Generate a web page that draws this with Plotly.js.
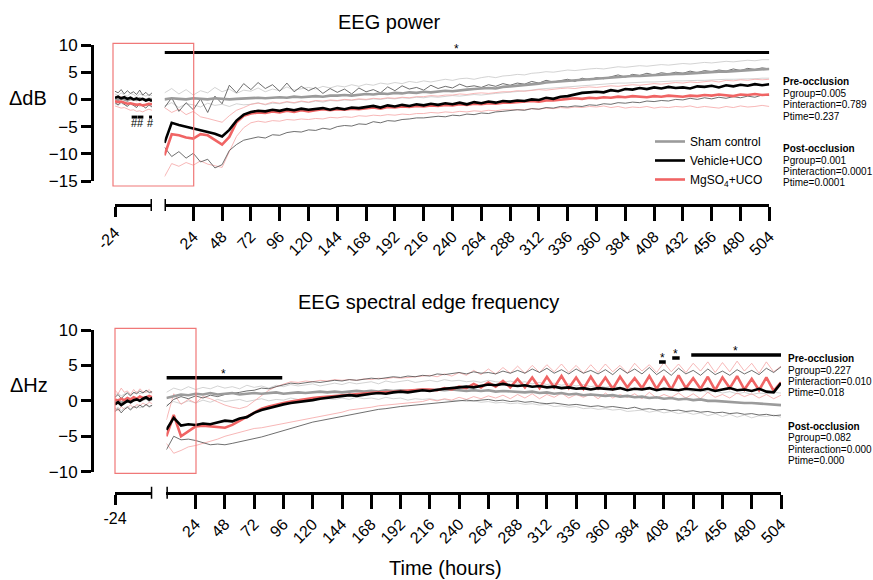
<!DOCTYPE html>
<html>
<head>
<meta charset="utf-8">
<script src="https://cdn.plot.ly/plotly-3.0.1.min.js"></script>
<style>html,body{margin:0;padding:0;background:#fff;}#chart{width:873px;height:580px;}</style>
</head>
<body>
<div id="chart"></div>
<script>
// ---------------- DATA ----------------
const hoursPre = [-24,-22,-20,-18,-16,-14,-12,-10,-8,-6,-4,-2,0];
const hoursPost = [0,6,12,18,24,30,36,42,48,54,60,66,72,78,84,90,96,102,108,114,120,126,132,138,144,150,156,162,168,174,180,186,192,198,204,210,216,222,228,234,240,246,252,258,264,270,276,282,288,294,300,306,312,318,324,330,336,342,348,354,360,366,372,378,384,390,396,402,408,414,420,426,432,438,444,450,456,462,468,474,480,486,492,498,504];
const tickHoursPost = [24,48,72,96,120,144,168,192,216,240,264,288,312,336,360,384,408,432,456,480,504];
const tickHoursPre = [-24];
const groupNames = ["Sham control","Vehicle+UCO","MgSO<sub>4</sub>+UCO"];

// EEG power (ΔdB) – pre-occlusion
const powPreSham   = [0.1,-0.1,0.2,0.0,-0.2,0.1,0.0,-0.1,0.2,0.0,-0.1,0.1,0.0];
const powPreShamHi = [1.0,0.7,1.2,0.8,0.6,1.1,0.9,0.5,1.0,0.8,0.6,0.9,0.7];
const powPreShamLo = [-0.8,-1.1,-0.7,-1.0,-1.2,-0.9,-1.1,-0.8,-1.3,-1.0,-0.9,-1.2,-1.0];
const powPreVeh    = [0.3,0.5,0.2,0.4,0.1,0.3,0.0,0.2,-0.1,0.1,-0.2,0.0,-0.3];
const powPreVehHi  = [1.5,1.2,1.8,1.0,1.6,1.1,1.4,0.9,1.7,0.8,1.3,0.7,1.2];
const powPreVehLo  = [-0.6,-1.0,-0.5,-0.9,-1.3,-0.7,-1.1,-1.5,-0.8,-1.2,-1.6,-1.0,-1.4];
const powPreMg     = [-0.3,-0.5,-0.4,-0.6,-0.8,-0.7,-0.9,-1.0,-0.9,-1.1,-1.0,-0.8,-0.9];
const powPreMgHi   = [0.6,0.3,0.5,0.2,0.0,0.3,-0.1,0.1,-0.2,0.0,-0.3,-0.1,0.1];
const powPreMgLo   = [-1.2,-1.4,-1.6,-1.5,-1.8,-2.0,-1.9,-2.2,-2.1,-2.3,-2.0,-1.8,-2.0];

// EEG power (ΔdB) – post-occlusion
const powSham = [0.0,0.2,0.1,0.0,0.2,0.1,0.0,0.2,0.1,0.0,0.1,0.2,
 0.2,0.3,0.2,0.3,0.4,0.3,0.5,0.4,0.5,0.6,0.5,0.7,
 0.7,0.8,0.7,0.9,1.0,0.9,1.1,1.0,1.2,1.1,1.3,1.2,
 1.4,1.3,1.5,1.6,1.5,1.7,1.8,1.9,2.0,2.1,2.0,2.3,
 2.4,2.5,2.6,2.8,2.9,3.1,3.2,3.3,3.5,3.6,3.7,3.8,
 3.9,4.0,4.0,4.1,4.2,4.3,4.3,4.4,4.5,4.5,4.6,4.7,
 4.7,4.8,4.9,4.9,5.0,5.1,5.1,5.2,5.3,5.3,5.4,5.5,5.6];
const powShamHi = [1.2,2.0,1.0,1.8,0.8,1.6,1.2,2.2,1.4,1.9,1.1,1.7,
 1.5,2.1,1.4,1.9,1.6,2.3,1.7,2.0,2.2,1.9,2.4,2.1,
 2.5,2.3,2.7,2.4,2.8,2.6,3.0,2.8,3.1,2.9,3.3,3.1,
 3.4,3.2,3.5,3.7,3.5,3.8,3.9,3.7,4.0,4.2,4.0,4.3,
 4.4,4.6,4.5,4.8,4.9,5.1,5.0,5.2,5.4,5.3,5.5,5.6,
 5.7,5.6,5.8,6.0,5.9,6.1,6.2,6.1,6.3,6.4,6.3,6.5,
 6.6,6.5,6.7,6.8,6.7,6.9,7.0,6.9,7.1,7.2,7.1,7.3,7.3];
const powShamLo = [-1.2,-0.6,-1.5,-0.8,-1.0,-1.4,-0.7,-1.1,-0.9,-1.3,-0.8,-1.0,
 -0.9,-0.6,-1.0,-0.7,-0.8,-0.5,-0.7,-0.4,-0.6,-0.3,-0.5,-0.2,
 -0.3,-0.1,-0.2,0.0,-0.1,0.1,0.0,0.2,0.1,0.3,0.2,0.4,
 0.3,0.5,0.4,0.6,0.7,0.6,0.8,0.9,0.8,1.0,1.1,1.2,
 1.3,1.4,1.6,1.7,1.9,2.0,2.1,2.3,2.4,2.5,2.6,2.7,
 2.8,2.8,2.9,3.0,3.0,3.1,3.1,3.2,3.2,3.3,3.3,3.4,
 3.4,3.5,3.5,3.5,3.6,3.6,3.7,3.7,3.7,3.8,3.8,3.9,3.9];
const powVeh = [-8.0,-4.3,-4.7,-5.0,-5.4,-5.6,-5.9,-6.3,-6.8,-5.6,-3.9,-2.8,
 -2.3,-2.1,-2.2,-1.9,-2.1,-1.8,-2.0,-1.7,-1.9,-1.8,-1.6,-1.9,
 -1.6,-1.8,-1.5,-1.6,-1.4,-1.2,-1.5,-1.1,-1.3,-1.0,-1.2,-0.9,
 -1.1,-0.8,-1.0,-0.7,-0.9,-0.6,-0.9,-0.5,-0.7,-0.4,-0.6,-0.3,
 -0.4,-0.2,-0.3,0.0,-0.1,0.3,0.1,0.5,0.6,0.9,1.2,1.3,
 1.4,1.3,1.7,1.5,1.9,1.8,2.1,1.9,2.2,2.0,2.3,2.1,
 2.2,2.0,2.4,2.3,2.5,2.2,2.6,2.4,2.7,2.5,2.8,2.6,2.8];
const powVehHi = [-1.5,0.3,-2.2,-0.6,-1.9,0.1,-2.4,0.6,-0.8,2.6,1.2,2.9,
 1.8,3.1,2.0,2.7,1.5,3.0,1.4,2.4,1.6,2.2,1.1,2.0,
 1.3,1.9,1.0,2.1,1.4,1.8,1.2,2.3,1.6,2.5,1.9,2.2,
 1.7,2.6,2.0,2.4,2.1,2.8,2.3,2.5,2.2,2.7,2.4,2.9,
 2.6,3.0,2.8,3.3,3.0,3.5,3.2,3.4,3.7,3.3,3.9,3.6,
 4.0,3.8,4.2,4.5,4.1,4.6,4.4,4.8,4.5,4.9,4.7,5.0,
 4.8,5.2,4.9,5.3,5.1,5.4,5.2,5.6,5.3,5.7,5.5,5.8,5.6];
const powVehLo = [-8.8,-10.5,-9.6,-10.8,-9.9,-11.5,-11.0,-12.6,-12.0,-9.4,-8.3,-7.5,
 -7.2,-6.9,-7.1,-6.5,-6.6,-6.1,-5.9,-6.0,-5.6,-5.7,-5.3,-5.5,
 -5.0,-4.8,-4.9,-4.5,-4.6,-4.1,-4.3,-3.9,-4.0,-3.7,-3.6,-3.4,
 -3.4,-3.3,-3.1,-3.2,-2.9,-3.0,-2.7,-2.8,-2.5,-2.6,-2.3,-2.2,
 -2.1,-1.9,-2.0,-1.7,-1.8,-1.5,-1.6,-1.3,-1.4,-1.2,-1.3,-1.0,
 -1.1,-0.8,-0.9,-0.6,-0.7,-0.5,-0.6,-0.3,-0.4,-0.2,-0.3,0.0,
 -0.1,0.2,0.0,0.3,0.1,0.4,0.2,0.5,0.3,0.6,0.4,0.8,0.7];
const powMg = [-10.3,-6.4,-6.6,-7.0,-7.2,-6.4,-6.6,-7.4,-8.3,-6.9,-4.2,-3.0,
 -2.6,-2.4,-2.5,-2.2,-2.4,-2.1,-2.3,-2.0,-2.2,-2.0,-1.8,-2.0,
 -1.8,-1.9,-1.7,-1.8,-1.6,-1.5,-1.7,-1.4,-1.5,-1.3,-1.4,-1.2,
 -1.3,-1.1,-1.2,-1.0,-1.1,-0.9,-1.0,-0.8,-0.9,-0.7,-0.8,-0.6,
 -0.6,-0.5,-0.5,-0.3,-0.4,-0.2,-0.2,0.0,0.1,0.2,0.1,0.3,
 0.2,0.4,0.3,0.5,0.4,0.6,0.5,0.4,0.6,0.5,0.7,0.6,
 0.5,0.7,0.6,0.8,0.7,0.9,0.8,0.6,0.9,0.8,1.0,0.8,0.9];
const powMgHi = [-1.5,-2.4,-1.8,-2.8,-2.2,-3.2,-3.5,-3.9,-4.2,-3.0,-2.0,-1.5,
 -0.9,-0.7,-0.9,-0.5,-0.7,-0.4,-0.6,-0.3,-0.5,-0.2,-0.3,-0.1,
 -0.2,0.0,-0.1,0.1,0.0,0.2,0.1,0.3,0.2,0.4,0.3,0.5,
 0.5,0.7,0.6,0.8,0.8,1.0,0.9,1.1,1.2,1.1,1.3,1.4,
 1.4,1.6,1.5,1.7,1.8,1.7,1.9,2.0,2.1,2.0,2.2,2.3,
 2.2,2.4,2.5,2.4,2.6,2.7,2.6,2.8,2.9,2.8,3.0,3.1,
 3.0,3.2,3.1,3.3,3.4,3.2,3.5,3.4,3.6,3.5,3.7,3.6,3.7];
const powMgLo = [-14.2,-11.8,-12.3,-11.6,-12.1,-11.3,-11.9,-12.2,-12.5,-9.6,-6.8,-5.2,
 -4.3,-4.0,-4.2,-3.9,-4.0,-3.7,-3.8,-3.6,-3.7,-3.5,-3.6,-3.3,
 -3.4,-3.2,-3.3,-3.0,-3.1,-2.9,-3.0,-2.8,-2.9,-2.7,-2.8,-2.6,
 -2.6,-2.4,-2.5,-2.3,-2.4,-2.2,-2.3,-2.1,-2.2,-2.0,-2.1,-1.9,
 -1.9,-1.8,-1.9,-1.7,-1.8,-1.6,-1.7,-1.5,-1.6,-1.4,-1.5,-1.3,
 -1.4,-1.2,-1.5,-1.3,-1.6,-1.4,-1.5,-1.3,-1.6,-1.4,-1.5,-1.3,
 -1.4,-1.2,-1.5,-1.3,-1.4,-1.6,-1.3,-1.5,-1.2,-1.4,-1.3,-1.1,-1.3];

// Spectral edge frequency (ΔHz) – pre-occlusion
const sefPreSham   = [-0.2,0.1,-0.3,0.0,0.2,-0.1,0.1,0.3,0.0,0.2,0.4,0.1,0.3];
const sefPreShamHi = [0.8,1.1,0.7,1.0,1.2,0.9,1.1,1.3,1.0,1.2,1.4,1.1,1.2];
const sefPreShamLo = [-1.2,-0.9,-1.4,-1.0,-0.8,-1.1,-0.9,-0.7,-1.0,-0.8,-0.6,-0.9,-0.7];
const sefPreVeh    = [-0.5,-0.2,-0.6,-0.3,0.0,-0.2,0.1,0.2,0.0,0.3,0.5,0.2,0.4];
const sefPreVehHi  = [0.5,0.9,0.3,0.8,1.1,0.7,1.2,1.0,1.4,1.1,1.5,1.2,1.3];
const sefPreVehLo  = [-1.5,-1.1,-1.7,-1.2,-0.9,-1.3,-0.8,-1.0,-0.6,-0.9,-0.5,-0.8,-0.6];
const sefPreMg     = [0.2,0.0,0.3,0.1,0.4,0.2,0.5,0.3,0.6,0.4,0.5,0.7,0.5];
const sefPreMgHi   = [1.5,1.0,1.8,1.2,1.4,0.9,1.6,1.1,1.7,1.3,1.2,1.6,1.0];
const sefPreMgLo   = [-1.0,-1.4,-0.8,-1.2,-0.9,-0.6,-1.0,-0.5,-0.7,-0.3,-0.6,-0.2,-0.4];

// Spectral edge frequency (ΔHz) – post-occlusion
const sefSham = [0.4,0.7,0.9,0.8,1.0,0.9,1.1,0.9,1.0,1.1,0.9,1.0,
 1.1,1.0,1.1,1.2,1.0,1.1,1.2,1.1,1.2,1.3,1.2,1.3,
 1.2,1.3,1.4,1.3,1.4,1.3,1.5,1.4,1.5,1.4,1.5,1.6,
 1.5,1.6,1.5,1.6,1.5,1.4,1.5,1.4,1.5,1.3,1.4,1.3,
 1.3,1.2,1.3,1.1,1.2,1.0,1.1,0.9,1.0,0.8,0.9,0.8,
 0.7,0.8,0.6,0.7,0.5,0.6,0.4,0.5,0.3,0.4,0.2,0.3,
 0.1,0.2,0.0,0.0,-0.1,-0.2,-0.2,-0.3,-0.3,-0.4,-0.5,-0.5,-0.6];
const sefShamHi = [1.2,1.8,1.5,2.0,1.6,1.9,1.7,2.1,1.8,2.0,1.7,2.2,
 1.9,2.1,1.8,2.2,2.0,2.3,2.1,2.2,2.4,2.1,2.3,2.5,
 2.3,2.6,2.4,2.5,2.7,2.4,2.8,2.6,2.7,2.9,2.6,2.8,
 2.9,2.7,3.0,2.8,2.9,2.7,2.8,2.6,2.9,2.7,2.6,2.8,
 2.5,2.7,2.4,2.6,2.3,2.5,2.2,2.4,2.1,2.3,2.0,2.2,
 1.9,2.1,1.8,2.0,1.7,1.9,1.6,1.8,1.5,1.7,1.4,1.6,
 1.3,1.5,1.2,1.4,1.1,1.3,1.0,1.2,0.9,1.1,1.0,1.2,1.1];
const sefShamLo = [-0.6,-0.1,-0.4,0.0,-0.3,0.1,-0.2,0.2,-0.1,0.0,0.2,-0.1,
 0.1,0.3,0.0,0.2,0.1,0.4,0.2,0.3,0.1,0.4,0.3,0.2,
 0.4,0.2,0.5,0.3,0.4,0.2,0.5,0.3,0.4,0.1,0.3,0.2,
 0.3,0.1,0.2,0.0,0.1,-0.1,0.0,-0.2,-0.1,-0.3,-0.2,-0.4,
 -0.3,-0.5,-0.4,-0.6,-0.5,-0.8,-0.7,-0.9,-0.8,-1.1,-1.0,-1.2,
 -1.1,-1.3,-1.2,-1.5,-1.4,-1.3,-1.6,-1.4,-1.7,-1.5,-1.8,-1.6,
 -1.9,-1.7,-2.1,-1.8,-2.2,-1.9,-2.3,-2.0,-2.4,-2.1,-2.2,-2.0,-2.3];
const sefVeh = [-4.1,-2.4,-3.5,-3.3,-3.4,-3.2,-3.3,-3.1,-2.8,-2.9,-2.5,-2.3,
 -1.7,-1.3,-1.0,-0.7,-0.5,-0.3,-0.2,0.0,0.1,0.3,0.4,0.5,
 0.6,0.8,0.7,0.9,1.0,1.1,1.0,1.2,1.3,1.2,1.4,1.5,
 1.4,1.6,1.7,1.8,1.9,2.0,1.9,2.1,2.3,2.2,2.4,2.2,
 2.1,2.2,2.0,2.1,1.9,2.0,1.8,1.9,1.7,1.8,1.6,1.8,
 1.7,1.6,1.8,1.5,1.7,1.6,1.8,1.5,1.7,1.6,1.5,1.7,
 1.6,1.5,1.7,1.4,1.6,1.8,1.5,1.6,1.4,1.7,1.3,1.2,2.5];
const sefVehHi = [-0.8,0.2,0.6,0.3,0.7,0.4,0.8,0.6,0.9,1.0,1.2,1.4,
 1.5,1.8,1.7,2.0,2.3,2.5,2.4,2.6,2.7,2.6,2.8,2.9,
 2.8,3.0,2.9,3.1,3.2,3.1,3.3,3.4,3.3,3.5,3.4,3.6,
 3.5,3.8,3.7,3.9,4.0,3.8,4.1,3.9,4.0,3.8,4.2,3.9,
 4.3,3.9,4.5,4.0,4.6,3.9,4.4,3.8,4.5,3.9,4.3,3.8,
 4.4,3.7,4.6,3.9,4.5,3.8,4.7,3.7,4.4,3.6,4.6,3.8,
 4.3,3.6,4.5,3.7,4.2,3.6,4.4,3.8,4.3,3.7,4.6,4.0,4.8];
const sefVehLo = [-6.9,-5.0,-5.5,-5.4,-5.6,-5.9,-6.2,-6.1,-6.2,-6.0,-5.8,-5.5,
 -5.3,-5.1,-4.8,-4.5,-4.1,-3.8,-3.6,-3.3,-3.0,-2.8,-2.6,-2.4,
 -2.2,-1.9,-1.7,-1.5,-1.4,-1.2,-1.1,-0.9,-0.8,-0.7,-0.6,-0.5,
 -0.4,-0.3,-0.2,-0.1,0.0,0.1,0.0,0.1,0.2,0.0,0.1,-0.1,
 0.0,-0.2,-0.1,-0.3,-0.4,-0.3,-0.5,-0.6,-0.5,-0.7,-0.8,-0.7,
 -0.9,-0.8,-1.0,-1.1,-0.9,-1.2,-1.1,-1.3,-1.2,-1.4,-1.3,-1.5,
 -1.4,-1.6,-1.5,-1.7,-1.6,-1.8,-1.7,-1.9,-1.8,-2.0,-1.9,-2.1,-2.0];
const sefMg = [-5.0,-2.0,-5.0,-4.3,-3.6,-3.5,-3.6,-3.7,-3.8,-3.4,-2.8,-2.2,
 -1.6,-1.1,-0.8,-0.5,-0.3,-0.1,0.1,0.3,0.4,0.5,0.6,0.7,
 0.8,0.9,1.0,1.0,1.1,1.2,1.2,1.3,1.4,1.4,1.5,1.6,
 1.6,1.5,1.8,1.6,2.0,1.8,2.4,1.9,2.6,2.0,2.8,1.9,
 3.1,1.9,3.3,1.8,3.4,1.9,3.5,1.8,3.3,1.7,3.4,1.8,
 3.3,1.7,3.4,1.9,3.2,1.8,3.5,1.7,3.3,1.6,3.6,1.8,
 3.2,1.7,3.4,1.5,3.3,1.8,3.5,1.6,3.1,1.5,3.3,1.4,2.6];
const sefMgHi = [-2.7,1.0,-0.5,0.2,-0.3,0.6,0.3,-0.2,-0.6,-0.9,-1.1,-0.8,
 0.0,0.7,1.5,2.0,2.4,2.7,2.6,2.8,2.7,2.9,2.8,3.0,
 2.9,3.0,2.9,3.1,3.0,3.2,3.1,3.3,3.2,3.3,3.4,3.5,
 3.6,3.4,3.8,3.5,4.0,3.6,4.3,3.7,4.5,3.8,4.7,3.9,
 4.9,3.9,5.0,4.0,5.1,4.1,5.2,4.0,5.0,3.9,5.1,4.0,
 5.2,4.1,5.0,3.9,5.3,4.2,5.1,4.0,5.4,4.1,5.2,4.0,
 5.3,4.2,5.5,4.0,5.4,4.1,5.6,4.2,5.3,3.9,5.5,4.1,4.9];
const sefMgLo = [-6.0,-7.4,-7.0,-6.5,-6.3,-6.0,-5.8,-5.4,-5.0,-4.7,-4.5,-4.2,
 -3.9,-3.8,-3.6,-3.4,-3.1,-2.9,-2.7,-2.5,-2.3,-2.1,-2.0,-1.8,
 -1.6,-1.3,-1.2,-1.0,-0.9,-0.7,-0.6,-0.5,-0.4,-0.3,-0.2,-0.1,
 0.2,0.0,0.3,0.1,0.5,0.2,0.6,0.3,0.7,0.4,0.8,0.3,
 0.9,0.4,1.0,0.3,0.9,0.5,1.1,0.4,0.9,0.5,1.0,0.3,
 1.1,0.4,0.9,0.5,1.0,0.3,1.2,0.4,0.9,0.5,1.1,0.4,
 1.0,0.3,1.2,0.5,0.9,0.4,1.1,0.6,1.0,0.4,0.9,0.3,0.8];

// significance ranges and star positions (hours)
const powSigStart = [0], powSigEnd = [504], powSigStar = [243];
const powPreSigStart = [-13.2,-9.4,-1.9], powPreSigEnd = [-9.6,-5.6,0];
const sefSigStart = [0,404,414.8,430.4], sefSigEnd = [95,409.5,420.9,504], sefSigStar = [46.5,407,417.6,467];

// statistics text
const powStats = {pre:["Pgroup=0.005","Pinteraction=0.789","Ptime=0.237"], post:["Pgroup=0.001","Pinteraction=0.0001","Ptime=0.0001"]};
const sefStats = {pre:["Pgroup=0.227","Pinteraction=0.010","Ptime=0.018"], post:["Pgroup=0.082","Pinteraction=0.000","Ptime=0.000"]};

// ---------------- DRAWING ----------------
const W = 873, H = 580;
const px = x => x / W, py = y => 1 - y / H;
const FONT = "Liberation Sans, Arial, Helvetica, sans-serif";
const C = {shamThick:"#9b9b9b", shamThin:"#c8c8c8", vehThick:"#000000", vehThin:"#4a4a4a", mgThick:"#f06464", mgThin:"#f5a5a5"};

const traces = [];
function ln(x, y, xa, ya, color, width, name, legend, rank) {
  traces.push({type:"scatter", mode:"lines", x:x, y:y, xaxis:xa, yaxis:ya,
    line:{color:color, width:width}, name:name || " ", showlegend:!!legend,
    legendrank: rank || 1000, hoverinfo:"skip"});
}
function panel(xPre, xPost, ya, d, withLegend) {
  const thin = 0.8, thick = 2.6;
  [[xPre, d.pre], [xPost, d.post]].forEach(([xa, s], i) => {
    const hx = i === 0 ? hoursPre : hoursPost;
    ln(hx, s.shamHi, xa, ya, C.shamThin, thin); ln(hx, s.shamLo, xa, ya, C.shamThin, thin);
    ln(hx, s.mgHi, xa, ya, C.mgThin, thin);     ln(hx, s.mgLo, xa, ya, C.mgThin, thin);
    ln(hx, s.vehHi, xa, ya, C.vehThin, thin);   ln(hx, s.vehLo, xa, ya, C.vehThin, thin);
    const lg = withLegend && i === 1;
    ln(hx, s.sham, xa, ya, C.shamThick, thick, groupNames[0], lg, 1);
    ln(hx, s.mg, xa, ya, C.mgThick, thick, groupNames[2], lg, 3);
    ln(hx, s.veh, xa, ya, C.vehThick, thick, groupNames[1], lg, 2);
  });
}
panel("x", "x2", "y", {
  pre:{sham:powPreSham, shamHi:powPreShamHi, shamLo:powPreShamLo, veh:powPreVeh, vehHi:powPreVehHi, vehLo:powPreVehLo, mg:powPreMg, mgHi:powPreMgHi, mgLo:powPreMgLo},
  post:{sham:powSham, shamHi:powShamHi, shamLo:powShamLo, veh:powVeh, vehHi:powVehHi, vehLo:powVehLo, mg:powMg, mgHi:powMgHi, mgLo:powMgLo}
}, true);
panel("x3", "x4", "y2", {
  pre:{sham:sefPreSham, shamHi:sefPreShamHi, shamLo:sefPreShamLo, veh:sefPreVeh, vehHi:sefPreVehHi, vehLo:sefPreVehLo, mg:sefPreMg, mgHi:sefPreMgHi, mgLo:sefPreMgLo},
  post:{sham:sefSham, shamHi:sefShamHi, shamLo:sefShamLo, veh:sefVeh, vehHi:sefVehHi, vehLo:sefVehLo, mg:sefMg, mgHi:sefMgHi, mgLo:sefMgLo}
}, false);

const annotations = [];
function txt(text, x, y, xref, yref, size, opts) {
  annotations.push(Object.assign({text:text, x:x, y:y, xref:xref, yref:yref, showarrow:false,
    font:{family:FONT, size:size, color:"#000000"}, xanchor:"center", yanchor:"middle"}, opts || {}));
}

// significance bars
const powLevel = 8.6;
powSigStart.forEach((s, i) => {
  ln([s, powSigEnd[i]], [powLevel, powLevel], "x2", "y", "#000", 3);
  txt("*", powSigStar[i], powLevel, "x2", "y", 12, {yanchor:"bottom", yshift:-5});
});
const powPreLevel = -3.25;
powPreSigStart.forEach((s, i) => {
  ln([s, powPreSigEnd[i]], [powPreLevel, powPreLevel], "x", "y", "#000", 3);
  txt("#", (s + powPreSigEnd[i]) / 2, py(123), "x", "paper", 11);
});
const sefLevels = [3.26, 5.5, 6.05, 6.47];
sefSigStart.forEach((s, i) => {
  ln([s, sefSigEnd[i]], [sefLevels[i], sefLevels[i]], "x4", "y2", "#000", 3.5);
  txt("*", sefSigStar[i], sefLevels[i], "x4", "y2", 12, {yanchor:"bottom", yshift:-5});
});

// titles
txt("EEG power", px(389), py(22), "paper", "paper", 20);
txt("EEG spectral edge frequency", px(428), py(302), "paper", "paper", 20);
txt("Time (hours)", px(446), py(568), "paper", "paper", 20);
txt("ΔdB", px(28), py(98), "paper", "paper", 20);
txt("ΔHz", px(29), py(385), "paper", "paper", 20);

// statistics blocks
function stats(st, x0, ys) {
  const fs = 10;
  txt("<b>Pre-occlusion</b>", px(x0), py(ys[0]), "paper", "paper", fs, {xanchor:"left"});
  st.pre.forEach((t, i) => txt(t, px(x0), py(ys[1 + i]), "paper", "paper", fs, {xanchor:"left"}));
  txt("<b>Post-occlusion</b>", px(x0), py(ys[4]), "paper", "paper", fs, {xanchor:"left"});
  st.post.forEach((t, i) => txt(t, px(x0), py(ys[5 + i]), "paper", "paper", fs, {xanchor:"left"}));
}
stats(powStats, 781, [81.7, 93.3, 105, 116.7, 148.3, 160, 171.5, 182.7]);
stats(sefStats, 786, [358.3, 370, 381.7, 392.7, 426, 437.3, 449, 460.7]);

// shapes: break caps and red highlight boxes
const shapes = [];
function cap(xref, yc) {
  shapes.push({type:"line", xref:xref, yref:"paper", x0:0, x1:0, y0:py(yc + 6), y1:py(yc - 6), line:{color:"#000", width:3}});
}
cap("x", 205); cap("x2", 205); cap("x3", 492.7); cap("x4", 492.7);
shapes.push({type:"rect", xref:"paper", yref:"paper", x0:px(113), x1:px(193.7), y0:py(186), y1:py(43.3), line:{color:"#f07878", width:1.2}, fillcolor:"rgba(0,0,0,0)"});
shapes.push({type:"rect", xref:"paper", yref:"paper", x0:px(115), x1:px(196), y0:py(473.3), y1:py(328.3), line:{color:"#f07878", width:1.2}, fillcolor:"rgba(0,0,0,0)"});

function xAxis(domain, range, vals, angle, pos, len) {
  return {domain:domain, range:range, anchor:"free", position:pos, showline:true, linewidth:3, linecolor:"#000",
    ticks:"outside", ticklen:len, tickwidth:3, tickcolor:"#000", tickmode:"array", tickvals:vals, ticktext:vals.map(String),
    tickangle:angle, tickfont:{family:FONT, size:16, color:"#000"}, showgrid:false, zeroline:false, fixedrange:true, automargin:false};
}
function yAxis(domain, range) {
  return {domain:domain, range:range, anchor:"free", position:px(92), showline:true, linewidth:3, linecolor:"#000",
    ticks:"outside", ticklen:10, tickwidth:3, tickcolor:"#000", tickmode:"linear", tick0:0, dtick:5,
    tickfont:{family:FONT, size:17, color:"#000"}, showgrid:false, zeroline:false, fixedrange:true, automargin:false};
}

const layout = {
  width:W, height:H, margin:{l:0, r:0, t:0, b:0}, paper_bgcolor:"#fff", plot_bgcolor:"rgba(0,0,0,0)",
  hovermode:false, showlegend:true,
  legend:{x:px(650), y:py(127), xanchor:"left", yanchor:"top", bgcolor:"rgba(0,0,0,0)",
    font:{family:FONT, size:12, color:"#000"}, tracegroupgap:0},
  xaxis: xAxis([px(115), px(152)], [-24, 0], tickHoursPre, -45, py(205), 10),
  xaxis2: xAxis([px(164.5), px(769.3)], [0, 504], tickHoursPost, -45, py(205), 14),
  xaxis3: xAxis([px(115), px(152.3)], [-24, 0], tickHoursPre, 0, py(492.7), 10),
  xaxis4: xAxis([px(166.4), px(781)], [0, 504], tickHoursPost, -45, py(492.7), 14),
  yaxis: yAxis([py(181), py(45)], [-15, 10]),
  yaxis2: yAxis([py(471.7), py(330)], [-10, 10]),
  annotations:annotations, shapes:shapes
};
Plotly.newPlot("chart", traces, layout, {staticPlot:true, displayModeBar:false});
</script>
</body>
</html>
